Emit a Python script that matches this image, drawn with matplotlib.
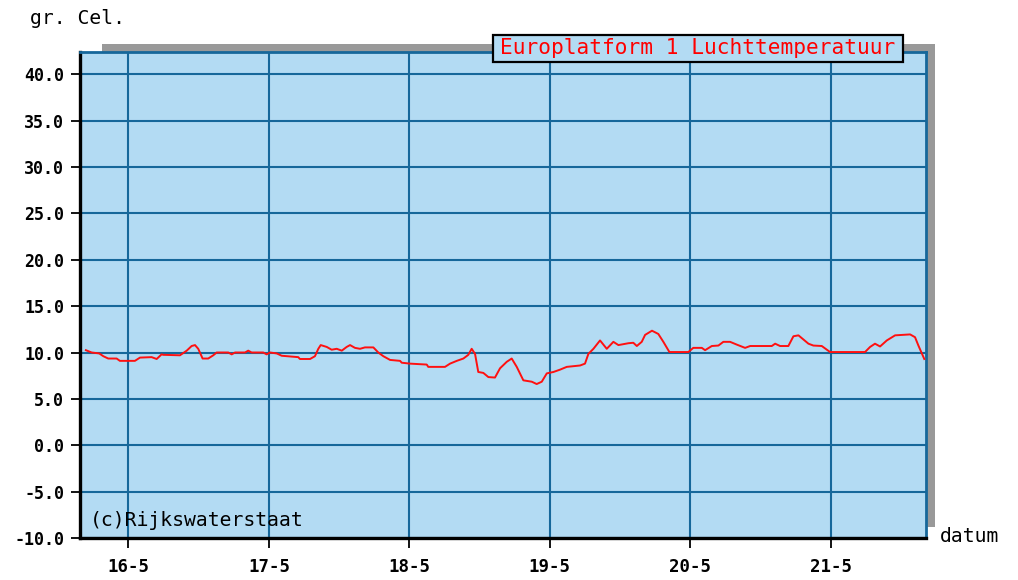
import matplotlib
matplotlib.use("Agg")
import matplotlib.pyplot as plt
from matplotlib.patches import Rectangle

# ---- data (day of month as fractional day, temperature in deg C) ----
days = [15.697, 15.738, 15.792, 15.821, 15.856, 15.916, 15.939, 16.046, 16.082, 16.165,
        16.201, 16.236, 16.248, 16.367, 16.415, 16.450, 16.474, 16.497, 16.528, 16.568,
        16.604, 16.628, 16.711, 16.735, 16.759, 16.830, 16.853, 16.877, 16.960, 16.984,
        17.008, 17.056, 17.091, 17.209, 17.221, 17.293, 17.328, 17.352, 17.369, 17.412,
        17.447, 17.483, 17.519, 17.554, 17.578, 17.613, 17.649, 17.684, 17.744, 17.779,
        17.815, 17.863, 17.934, 17.946, 18.005, 18.124, 18.135, 18.254, 18.290, 18.338,
        18.385, 18.420, 18.444, 18.468, 18.491, 18.527, 18.563, 18.610, 18.646, 18.694,
        18.729, 18.765, 18.812, 18.872, 18.907, 18.943, 18.979, 19.026, 19.073, 19.121,
        19.216, 19.251, 19.275, 19.311, 19.358, 19.406, 19.453, 19.489, 19.560, 19.595,
        19.620, 19.655, 19.679, 19.728, 19.773, 19.809, 19.852, 19.987, 20.022, 20.083,
        20.106, 20.154, 20.201, 20.236, 20.284, 20.332, 20.391, 20.427, 20.581, 20.605,
        20.640, 20.699, 20.735, 20.771, 20.806, 20.842, 20.877, 20.937, 20.973, 20.996,
        21.245, 21.281, 21.316, 21.352, 21.400, 21.459, 21.566, 21.601, 21.625, 21.650,
        21.667]
temps = [10.25, 10.0, 9.9, 9.6, 9.35, 9.35, 9.1, 9.1, 9.45, 9.5,
         9.3, 9.8, 9.75, 9.7, 10.2, 10.7, 10.8, 10.4, 9.35, 9.35,
         9.7, 10.0, 10.0, 9.8, 10.0, 10.0, 10.2, 10.0, 10.0, 9.8,
         10.0, 9.9, 9.65, 9.5, 9.3, 9.3, 9.6, 10.4, 10.8, 10.6,
         10.3, 10.4, 10.2, 10.6, 10.8, 10.5, 10.4, 10.55, 10.55, 10.0,
         9.6, 9.2, 9.1, 8.9, 8.8, 8.7, 8.45, 8.45, 8.8, 9.1,
         9.35, 9.75, 10.4, 9.85, 7.9, 7.8, 7.35, 7.3, 8.3, 9.0,
         9.35, 8.45, 7.0, 6.85, 6.6, 6.85, 7.75, 7.9, 8.15, 8.45,
         8.6, 8.8, 9.85, 10.4, 11.3, 10.4, 11.15, 10.8, 11.0, 11.05,
         10.7, 11.15, 11.9, 12.35, 12.0, 11.15, 10.05, 10.05, 10.5, 10.5,
         10.25, 10.7, 10.75, 11.15, 11.15, 10.85, 10.5, 10.7, 10.7, 10.95,
         10.7, 10.7, 11.75, 11.85, 11.4, 10.95, 10.75, 10.7, 10.3, 10.05,
         10.05, 10.6, 10.95, 10.65, 11.3, 11.85, 11.95, 11.65, 10.75, 9.9,
         9.3]

xticks = [16, 17, 18, 19, 20, 21]
xtick_labels = ["16-5", "17-5", "18-5", "19-5", "20-5", "21-5"]
yticks = [-10, -5, 0, 5, 10, 15, 20, 25, 30, 35, 40]
ytick_labels = ["-10.0", "-5.0", "0.0", "5.0", "10.0", "15.0", "20.0",
                "25.0", "30.0", "35.0", "40.0"]
title = "Europlatform 1 Luchttemperatuur"
ylabel = "gr. Cel."
xlabel = "datum"
credit = "(c)Rijkswaterstaat"

# ---- styling ----
W, H = 1018, 580
FACE = "#b3dbf3"
GRID = "#16679a"
MONO = "DejaVu Sans Mono"

fig = plt.figure(figsize=(W / 100, H / 100), dpi=100)

def fx(px):
    return px / W

def fy(py):
    return 1 - py / H

# shadow behind the plot
fig.patches.append(Rectangle((fx(102), fy(527)), fx(935) - fx(102), fy(44) - fy(527),
                             transform=fig.transFigure, facecolor="#999999",
                             edgecolor="none", zorder=-1))

ax = fig.add_axes([fx(80), fy(538), fx(925.7) - fx(80), fy(52) - fy(538)])
ax.set_facecolor(FACE)
ax.set_xlim(15.655, 21.677)
ax.set_ylim(-10, 42.4)

ax.plot(days, temps, color="#ff1010", lw=1.4, zorder=3)

ax.set_xticks(xticks)
ax.set_xticklabels(xtick_labels, family=MONO, fontsize=12.5, fontweight="bold")
ax.set_yticks(yticks)
ax.set_yticklabels(ytick_labels, family=MONO, fontsize=12, fontweight="bold")
ax.tick_params(axis="x", length=7.5, width=1.3, color="black", pad=7, direction="out")
ax.tick_params(axis="y", length=6.5, width=1.3, color="black", pad=5, direction="out")

ax.grid(True, color=GRID, lw=1.5, zorder=1)
ax.set_axisbelow(True)

for side in ("left", "bottom"):
    ax.spines[side].set_color("black")
    ax.spines[side].set_linewidth(2.4)
for side in ("top", "right"):
    ax.spines[side].set_color(GRID)
    ax.spines[side].set_linewidth(2.0)

# texts
fig.text(fx(30), fy(18), ylabel, family=MONO, fontsize=14.2, va="center", ha="left")
fig.text(fx(940), fy(537), xlabel, family=MONO, fontsize=14.2, va="center", ha="left")
fig.text(fx(90), fy(520), credit, family=MONO, fontsize=14.2, va="center", ha="left",
         zorder=5)

# title box
fig.patches.append(Rectangle((fx(493), fy(62)), fx(903) - fx(493), fy(35) - fy(62),
                             transform=fig.transFigure, facecolor=FACE,
                             edgecolor="black", lw=1.6, zorder=4))
fig.text(fx(698), fy(48.5), title, family=MONO, fontsize=15.2, color="#ff0000",
         va="center", ha="center", zorder=5)

fig.savefig("out.png", dpi=100)
